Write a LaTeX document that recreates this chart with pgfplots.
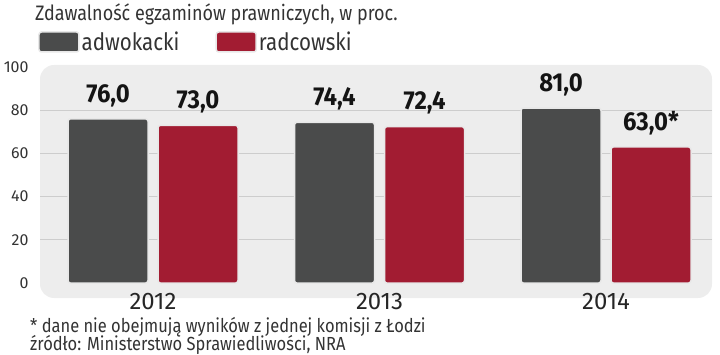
\documentclass[border=0pt]{standalone}
\usepackage{pgfplots}
\pgfplotsset{compat=1.18}
\usepackage{fontspec}
\setmainfont{Fira Sans}[FakeStretch=0.86]
\newfontfamily\widef{Fira Sans}
\newfontfamily\valf{Fira Sans}[FakeStretch=0.92]
\newfontfamily\footf{Fira Sans}[FakeStretch=0.87]
\definecolor{dark}{HTML}{4A4B4B}
\definecolor{rdc}{HTML}{A21C32}
\definecolor{panel}{HTML}{EDEDED}
\definecolor{gridc}{HTML}{CDCDCD}
\definecolor{txt}{HTML}{333333}
\begin{document}
\begin{tikzpicture}
\useasboundingbox (0,0) rectangle (720bp,355bp);
\node[anchor=base west, text=txt, font=\fontsize{21}{21}\selectfont, inner sep=0pt] at (35bp,334bp) {Zdawalność egzaminów prawniczych, w proc.};
\node[anchor=base west, text=txt, font=\footf\fontsize{19}{19}\selectfont, inner sep=0pt] at (30bp,23bp) {* dane nie obejmują wyników z jednej komisji z Łodzi};
\node[anchor=base west, text=txt, font=\footf\fontsize{19}{19}\selectfont, inner sep=0pt] at (30bp,5bp) {źródło: Ministerstwo Sprawiedliwości, NRA};
\begin{axis}[
  at={(40bp,57bp)}, anchor=south west,
  scale only axis, width=672bp, height=233bp,
  xmin=-0.499, xmax=2.468, ymin=-6.9, ymax=100.9,
  axis line style={draw=none},
  axis background/.style={fill=panel, rounded corners=14bp},
  /pgf/number format/assume math mode=true,
  ytick={0,20,40,60,80,100},
  extra y ticks={20,40,60,80}, extra y tick labels={},
  extra y tick style={ymajorgrids=true, major grid style={gridc, line width=0.8bp}},
  major tick length=0pt,
  yticklabel style={font=\widef\fontsize{16}{16}\selectfont, text=txt, xshift=-8bp},
  xtick={0,1,2}, xticklabels={2012,2013,2014},
  xticklabel style={font=\widef\fontsize{24}{24}\selectfont, text=black!85, yshift=8bp},
  ybar, bar width=80bp,
  nodes near coords, point meta=explicit symbolic,
  every node near coord/.append style={font=\valf\bfseries\fontsize{26}{26}\selectfont, text=black!92, yshift=8bp},
  legend columns=2,
  legend style={at={(axis description cs:0,1)}, anchor=west, xshift=-2bp, yshift=23bp, draw=none, fill=none, inner sep=0pt, font=\fontsize{24}{24}\selectfont, text=txt, /tikz/every even column/.append style={column sep=34bp}},
  legend cell align=left,
]
\addplot[fill=dark, draw=white!82!gray, line width=1.5bp, rounded corners=2.5bp, bar shift=-45bp,
  legend image code/.code={\draw[fill=dark, draw=white!82!gray, line width=1.5bp, rounded corners=2.5bp] (0bp,-10bp) rectangle (40bp,10bp);}]
  coordinates {(0,76.0) [76{,}0] (1,74.4) [74{,}4] (2,81.0) [81{,}0]};
\addlegendentry{adwokacki}
\addplot[fill=rdc, draw=white!82!gray, line width=1.5bp, rounded corners=2.5bp, bar shift=45bp,
  legend image code/.code={\draw[fill=rdc, draw=white!82!gray, line width=1.5bp, rounded corners=2.5bp] (0bp,-10bp) rectangle (40bp,10bp);}]
  coordinates {(0,73.0) [73{,}0] (1,72.4) [72{,}4] (2,63.0) [63{,}0*]};
\addlegendentry{radcowski}
\end{axis}
\end{tikzpicture}
\end{document}
